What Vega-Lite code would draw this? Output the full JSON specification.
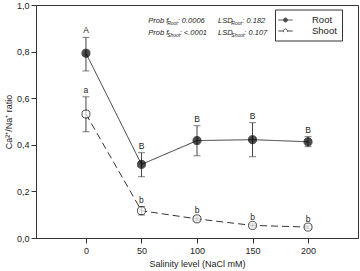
{
  "$schema": "https://vega.github.io/schema/vega-lite/v6.json",
  "width": 322,
  "height": 233,
  "autosize": {"type": "none"},
  "padding": {"left": 36, "top": 5, "right": 2, "bottom": 33},
  "background": "white",
  "config": {
    "locale": {"number": {"decimal": ",", "thousands": ".", "grouping": [3], "currency": ["", ""]}},
    "font": "Liberation Sans",
    "view": {"stroke": "#333", "strokeWidth": 1},
    "axis": {"grid": false, "domainColor": "#333", "tickColor": "#333", "labelColor": "#222", "titleColor": "#222", "labelFont": "Liberation Sans", "titleFont": "Liberation Sans", "labelFontSize": 9, "titleFontSize": 9, "titleFontWeight": "normal", "tickSize": 5},
    "legend": {
      "orient": "none", "legendX": 239, "legendY": 4.5,
      "strokeColor": "#333", "fillColor": "white", "padding": 5,
      "labelFontSize": 9.5, "labelColor": "#222", "labelFont": "Liberation Sans", "labelOffset": 21,
      "symbolSize": 100, "symbolStrokeColor": "black", "symbolStrokeWidth": 1, "rowPadding": 1,
      "symbolType": "M-1.45,0H-0.4M0.4,0H1.45M-0.4,0A0.4,0.4,0,1,1,0.4,0A0.4,0.4,0,1,1,-0.4,0"
    }
  },
  "datasets": {
    "ratio": [
      {"salinity": 0, "series": "Root", "value": 0.793, "lo": 0.717, "hi": 0.861, "letter": "A"},
      {"salinity": 50, "series": "Root", "value": 0.316, "lo": 0.263, "hi": 0.366, "letter": "B"},
      {"salinity": 100, "series": "Root", "value": 0.418, "lo": 0.353, "hi": 0.482, "letter": "B"},
      {"salinity": 150, "series": "Root", "value": 0.422, "lo": 0.349, "hi": 0.495, "letter": "B"},
      {"salinity": 200, "series": "Root", "value": 0.413, "lo": 0.392, "hi": 0.435, "letter": "B"},
      {"salinity": 0, "series": "Shoot", "value": 0.532, "lo": 0.456, "hi": 0.606, "letter": "a"},
      {"salinity": 50, "series": "Shoot", "value": 0.117, "lo": 0.099, "hi": 0.135, "letter": "b"},
      {"salinity": 100, "series": "Shoot", "value": 0.082, "lo": 0.074, "hi": 0.09, "letter": "b"},
      {"salinity": 150, "series": "Shoot", "value": 0.054, "lo": 0.047, "hi": 0.061, "letter": "b"},
      {"salinity": 200, "series": "Shoot", "value": 0.047, "lo": 0.041, "hi": 0.053, "letter": "b"}
    ],
    "notes": [
      {"label": "Prob f", "x": 56.2, "y": 0.931},
      {"label": ": 0.0006", "x": 82.6, "y": 0.931},
      {"label": "LSD", "x": 118.9, "y": 0.931},
      {"label": ": 0.182", "x": 140.8, "y": 0.931},
      {"label": "Prob f", "x": 56.2, "y": 0.88},
      {"label": ": <.0001", "x": 84.4, "y": 0.88},
      {"label": "LSD", "x": 118.9, "y": 0.88},
      {"label": ": 0.107", "x": 142.6, "y": 0.88}
    ],
    "subs": [
      {"label": "Root", "x": 73.1, "y": 0.921},
      {"label": "Root", "x": 130.9, "y": 0.921},
      {"label": "Shoot", "x": 73.1, "y": 0.87},
      {"label": "Shoot", "x": 130.9, "y": 0.87}
    ]
  },
  "layer": [
    {
      "data": {"name": "ratio"},
      "mark": {"type": "line", "color": "#333", "strokeWidth": 1},
      "encoding": {
        "x": {"field": "salinity", "type": "quantitative", "scale": {"domain": [-45, 245], "nice": false, "zero": false},
          "axis": {"values": [0, 50, 100, 150, 200], "title": "Salinity level (NaCl mM)", "labelPadding": 3, "titlePadding": 4}},
        "y": {"field": "value", "type": "quantitative", "scale": {"domain": [0, 1], "nice": false},
          "axis": {"values": [0, 0.2, 0.4, 0.6, 0.8, 1], "format": ".1f", "title": "Ca²⁺/Na⁺ ratio", "labelPadding": 2, "titlePadding": 3}},
        "strokeDash": {"field": "series", "type": "nominal", "title": null, "scale": {"domain": ["Root", "Shoot"], "range": [[1, 0], [7, 4]]},
          "legend": {"strokeColor": "#333", "fillColor": "white"}}
      }
    },
    {
      "data": {"name": "ratio"},
      "mark": {"type": "rule", "color": "#444", "strokeWidth": 1},
      "encoding": {
        "x": {"field": "salinity", "type": "quantitative"},
        "y": {"field": "lo", "type": "quantitative"},
        "y2": {"field": "hi"}
      }
    },
    {
      "data": {"name": "ratio"},
      "mark": {"type": "tick", "orient": "horizontal", "color": "#444", "size": 7, "thickness": 1},
      "encoding": {
        "x": {"field": "salinity", "type": "quantitative"},
        "y": {"field": "lo", "type": "quantitative"}
      }
    },
    {
      "data": {"name": "ratio"},
      "mark": {"type": "tick", "orient": "horizontal", "color": "#444", "size": 7, "thickness": 1},
      "encoding": {
        "x": {"field": "salinity", "type": "quantitative"},
        "y": {"field": "hi", "type": "quantitative"}
      }
    },
    {
      "data": {"name": "ratio"},
      "mark": {"type": "point", "shape": "circle", "filled": true, "size": 65, "stroke": "black", "strokeWidth": 1},
      "encoding": {
        "x": {"field": "salinity", "type": "quantitative"},
        "y": {"field": "value", "type": "quantitative"},
        "fill": {"field": "series", "type": "nominal", "title": null, "scale": {"domain": ["Root", "Shoot"], "range": ["black", "white"]},
          "legend": {
            "strokeColor": "#333", "fillColor": "white",
            "encode": {"symbols": {"update": {
              "strokeDash": {"value": [1, 0]},
              "shape": [
                {"test": "datum.value === 'Shoot'", "value": "M-1.45,0H-0.6M0.6,0H1.4M-0.4,0A0.4,0.4,0,1,1,0.4,0A0.4,0.4,0,1,1,-0.4,0"},
                {"value": "M-1.45,0H-0.4M0.4,0H1.45M-0.4,0A0.4,0.4,0,1,1,0.4,0A0.4,0.4,0,1,1,-0.4,0"}
              ]
            }}}
          }}
      }
    },
    {
      "data": {"name": "ratio"},
      "mark": {"type": "text", "baseline": "bottom", "dy": -2, "fontSize": 8.5, "color": "#222"},
      "encoding": {
        "x": {"field": "salinity", "type": "quantitative"},
        "y": {"field": "hi", "type": "quantitative"},
        "text": {"field": "letter"}
      }
    },
    {
      "data": {"name": "notes"},
      "mark": {"type": "text", "align": "left", "baseline": "middle", "fontSize": 7.5, "fontStyle": "italic", "color": "#222"},
      "encoding": {
        "x": {"field": "x", "type": "quantitative"},
        "y": {"field": "y", "type": "quantitative"},
        "text": {"field": "label"}
      }
    },
    {
      "data": {"name": "subs"},
      "mark": {"type": "text", "align": "left", "baseline": "middle", "fontSize": 5, "fontStyle": "italic", "color": "#222"},
      "encoding": {
        "x": {"field": "x", "type": "quantitative"},
        "y": {"field": "y", "type": "quantitative"},
        "text": {"field": "label"}
      }
    }
  ]
}
